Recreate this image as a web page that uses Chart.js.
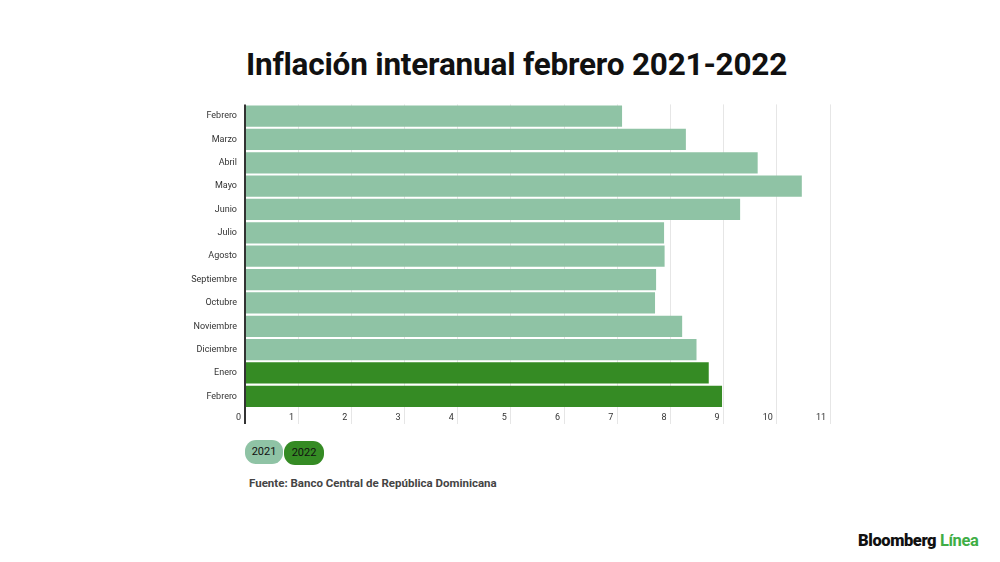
<!DOCTYPE html>
<html>
<head>
<meta charset="utf-8">
<script src="https://cdn.jsdelivr.net/npm/chart.js@4"></script>
<style>
  html, body { margin: 0; padding: 0; background: #fff; }
  body { width: 1000px; height: 562px; position: relative; overflow: hidden; font-family: Roboto, "Noto Sans", sans-serif; }
  #title { position: absolute; left: 0; width: 1033px; top: 46px; text-align: center; font-size: 31.5px; font-weight: 700; color: #111; letter-spacing: -0.2px; }
  #wrap { position: absolute; left: 180px; top: 91px; width: 652px; height: 335px; }
  #legend { position: absolute; left: 245px; top: 440px; height: 26px; }
  .pill { position: absolute; top: 0; height: 24px; border-radius: 11px; font-size: 11px; color: #111; text-align: center; line-height: 24px; }
  #source { position: absolute; left: 249px; top: 476px; font-size: 11.5px; font-weight: 700; color: #444; }
  #logo { position: absolute; left: 858px; top: 531px; font-size: 16.5px; font-weight: 900; color: #111; letter-spacing: -0.4px; }
  #logo span { color: #3fae46; font-weight: 700; }
</style>
</head>
<body>
<div id="title">Inflación interanual febrero 2021-2022</div>
<div id="wrap"><canvas id="inflChart"></canvas></div>
<div id="legend"></div>
<div id="source">Fuente: Banco Central de República Dominicana</div>
<div id="logo">Bloomberg <span>Línea</span></div>
<script>
// ---- data ----
var months = ["Febrero", "Marzo", "Abril", "Mayo", "Junio", "Julio", "Agosto",
              "Septiembre", "Octubre", "Noviembre", "Diciembre", "Enero", "Febrero"];
var years  = ["2021", "2021", "2021", "2021", "2021", "2021", "2021",
              "2021", "2021", "2021", "2021", "2022", "2022"];
var inflation = [7.09, 8.29, 9.64, 10.47, 9.31, 7.88, 7.89, 7.73, 7.71, 8.22, 8.49, 8.72, 8.97];
var xMax = 11;

var yearColors = { "2021": "#8fc3a5", "2022": "#358b24" };

// legend pills
var legendEl = document.getElementById("legend");
var pillLeft = 0;
Object.keys(yearColors).forEach(function (yr, i) {
  var p = document.createElement("div");
  p.className = "pill";
  p.style.left = pillLeft + "px";
  p.style.width = (i === 0 ? 38 : 40) + "px";
  p.style.top = (i === 0 ? 0 : 1) + "px";
  p.style.background = yearColors[yr];
  p.textContent = yr;
  legendEl.appendChild(p);
  pillLeft += i === 0 ? 39 : 41;
});

new Chart(document.getElementById("inflChart"), {
  type: "bar",
  data: {
    labels: months,
    datasets: [{
      label: "Inflación interanual",
      data: inflation,
      backgroundColor: years.map(function (y) { return yearColors[y]; }),
      barPercentage: 0.91,
      categoryPercentage: 1.0
    }]
  },
  options: {
    indexAxis: "y",
    responsive: true,
    maintainAspectRatio: false,
    animation: false,
    layout: { padding: { top: 12, right: 2, bottom: 0, left: 0 } },
    plugins: { legend: { display: false }, tooltip: { enabled: false } },
    scales: {
      x: {
        min: 0,
        max: xMax,
        // labels sit beside the tick marks, so the axis band is just the tick length
        afterFit: function (scale) { scale.height = 18; },
        border: { display: false },
        grid: {
          color: function (ctx) { return ctx.tick && ctx.tick.value === 0 ? "#333" : "#e6e6e6"; },
          lineWidth: function (ctx) { return ctx.tick && ctx.tick.value === 0 ? 2 : 1; },
          tickLength: 16
        },
        ticks: {
          stepSize: 1,
          autoSkip: false,
          maxRotation: 0,
          align: "end",
          labelOffset: -4,
          padding: -12,
          color: "#333",
          font: { family: "Roboto", size: 9 }
        }
      },
      y: {
        afterFit: function (scale) { scale.width = 65; },
        border: { display: false },
        grid: { display: false, drawTicks: false, tickLength: 0 },
        ticks: {
          padding: 8,
          color: "#333",
          font: { family: "Roboto", size: 9 }
        }
      }
    }
  }
});
</script>
</body>
</html>
